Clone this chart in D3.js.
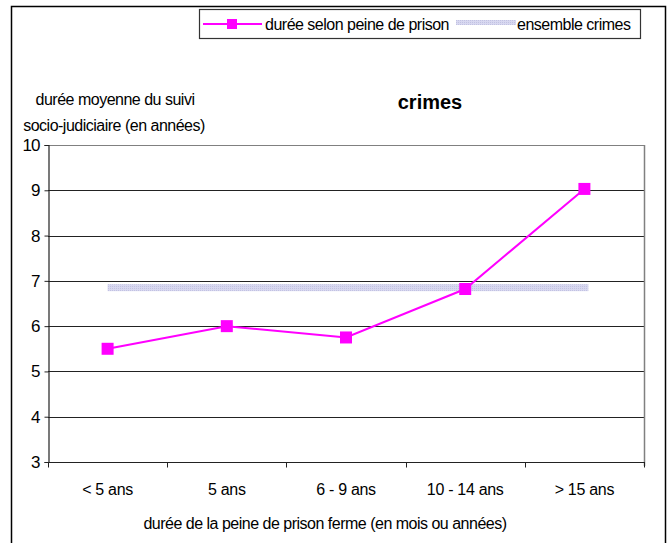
<!DOCTYPE html>
<html>
<head>
<meta charset="utf-8">
<script src="https://cdn.jsdelivr.net/npm/d3@7"></script>
<style>
  html, body { margin: 0; padding: 0; background: #fff; }
  svg { display: block; font-family: "Liberation Sans", Arial, sans-serif; }
  .lbl { letter-spacing: -0.5px; }
</style>
</head>
<body>
<svg id="chart" width="670" height="543"></svg>
<script>
// Durée moyenne du suivi socio-judiciaire selon la peine de prison (crimes)
const categories = ["< 5 ans", "5 ans", "6 - 9 ans", "10 - 14 ans", "> 15 ans"];
const dureeSelonPeine = [5.5, 6.0, 5.75, 6.82, 9.03];
const ensembleCrimes = 6.85;
const yTicks = [3, 4, 5, 6, 7, 8, 9, 10];

const svg = d3.select("#chart");
const m = { left: 48, right: 644, top: 145, bottom: 462 };
const FS = 16;

const x = d3.scaleBand().domain(categories).range([m.left, m.right]);
const y = d3.scaleLinear().domain([3, 10]).range([m.bottom, m.top]);

// outer frame
svg.append("path")
  .attr("d", "M11.5,560 V6.5 H665.5 V560")
  .attr("fill", "none").attr("stroke", "#000").attr("stroke-width", 1.5);

// gridlines
svg.append("g").selectAll("line").data(yTicks.filter(d => d > 3)).join("line")
  .attr("x1", m.left).attr("x2", m.right)
  .attr("y1", d => Math.round(y(d)) + 0.5).attr("y2", d => Math.round(y(d)) + 0.5)
  .attr("stroke", d => d === 10 ? "#808080" : "#222").attr("stroke-width", 1.2);

// plot right border
svg.append("line")
  .attr("x1", m.right + 0.5).attr("x2", m.right + 0.5)
  .attr("y1", m.top).attr("y2", m.bottom + 4)
  .attr("stroke", "#808080").attr("stroke-width", 1.5);

// y axis
const yAxis = svg.append("g")
  .attr("transform", `translate(${m.left + 0.5},0)`)
  .call(d3.axisLeft(y).tickValues(yTicks).tickSize(4).tickPadding(5).tickFormat(d3.format("d")));
yAxis.select(".domain").attr("stroke", "#222").attr("stroke-width", 1.2);
yAxis.selectAll(".tick line").attr("stroke", "#222");
yAxis.selectAll("text").attr("font-size", 17).attr("fill", "#000")
  .attr("letter-spacing", "-1px")
  .attr("font-family", "Liberation Sans, Arial, sans-serif");

// x axis with ticks on category boundaries
const xAxisG = svg.append("g").attr("transform", `translate(0,${m.bottom + 0.5})`);
xAxisG.append("line").attr("x1", m.left).attr("x2", m.right + 1)
  .attr("stroke", "#222").attr("stroke-width", 1.2);
const bounds = categories.map(c => x(c)).concat([x.range()[1]]);
xAxisG.selectAll("line.tk").data(bounds).join("line").attr("class", "tk")
  .attr("x1", d => Math.round(d) + 0.5).attr("x2", d => Math.round(d) + 0.5)
  .attr("y1", 0).attr("y2", 5).attr("stroke", "#222");
xAxisG.selectAll("text").data(categories).join("text")
  .attr("x", d => x(d) + x.bandwidth() / 2).attr("y", 32)
  .attr("text-anchor", "middle").attr("font-size", FS).attr("letter-spacing", "-0.3px").text(d => d);

// ensemble crimes reference band
const pat = svg.append("defs").append("pattern")
  .attr("id", "hatch").attr("width", 2).attr("height", 2).attr("patternUnits", "userSpaceOnUse");
pat.append("rect").attr("width", 2).attr("height", 2).attr("fill", "#d8d8f0");
pat.append("rect").attr("width", 1).attr("height", 1).attr("fill", "#c2c2e2");

const cx = d => x(d) + x.bandwidth() / 2;
svg.append("rect")
  .attr("x", cx(categories[0])).attr("width", cx(categories[4]) - cx(categories[0]) + 4)
  .attr("y", y(ensembleCrimes) - 3.5).attr("height", 7)
  .attr("fill", "url(#hatch)");

// series line + square markers
const pts = categories.map((c, i) => [cx(c), y(dureeSelonPeine[i])]);
svg.append("path").attr("d", d3.line()(pts))
  .attr("fill", "none").attr("stroke", "#ff00ff").attr("stroke-width", 2);
svg.append("g").selectAll("rect").data(pts).join("rect")
  .attr("x", d => d[0] - 6).attr("y", d => d[1] - 6)
  .attr("width", 12).attr("height", 12).attr("fill", "#ff00ff");

// titles
svg.append("text").attr("x", 430).attr("y", 109).attr("text-anchor", "middle")
  .attr("font-size", 20).attr("font-weight", "bold").text("crimes");
svg.append("text").attr("class", "lbl").attr("x", 115).attr("y", 105).attr("text-anchor", "middle")
  .attr("font-size", FS).text("durée moyenne du suivi");
svg.append("text").attr("class", "lbl").attr("x", 114).attr("y", 131).attr("text-anchor", "middle")
  .attr("font-size", FS).text("socio-judiciaire (en années)");
svg.append("text").attr("class", "lbl").attr("x", 325).attr("y", 529).attr("text-anchor", "middle")
  .attr("font-size", FS).text("durée de la peine de prison ferme (en mois ou années)");

// legend
const lg = svg.append("g");
lg.append("rect").attr("x", 199.5).attr("y", 9.5).attr("width", 441).attr("height", 29)
  .attr("fill", "#fff").attr("stroke", "#333").attr("stroke-width", 1.2);
lg.append("line").attr("x1", 203).attr("x2", 262).attr("y1", 24).attr("y2", 24)
  .attr("stroke", "#ff00ff").attr("stroke-width", 2);
lg.append("rect").attr("x", 227).attr("y", 19).attr("width", 10).attr("height", 10).attr("fill", "#ff00ff");
lg.append("text").attr("class", "lbl").attr("x", 265).attr("y", 29.5).attr("font-size", FS).text("durée selon peine de prison");
lg.append("rect").attr("x", 456).attr("y", 20).attr("width", 60).attr("height", 5).attr("fill", "url(#hatch)");
lg.append("text").attr("class", "lbl").attr("x", 517).attr("y", 29.5).attr("font-size", FS).text("ensemble crimes");
</script>
</body>
</html>
